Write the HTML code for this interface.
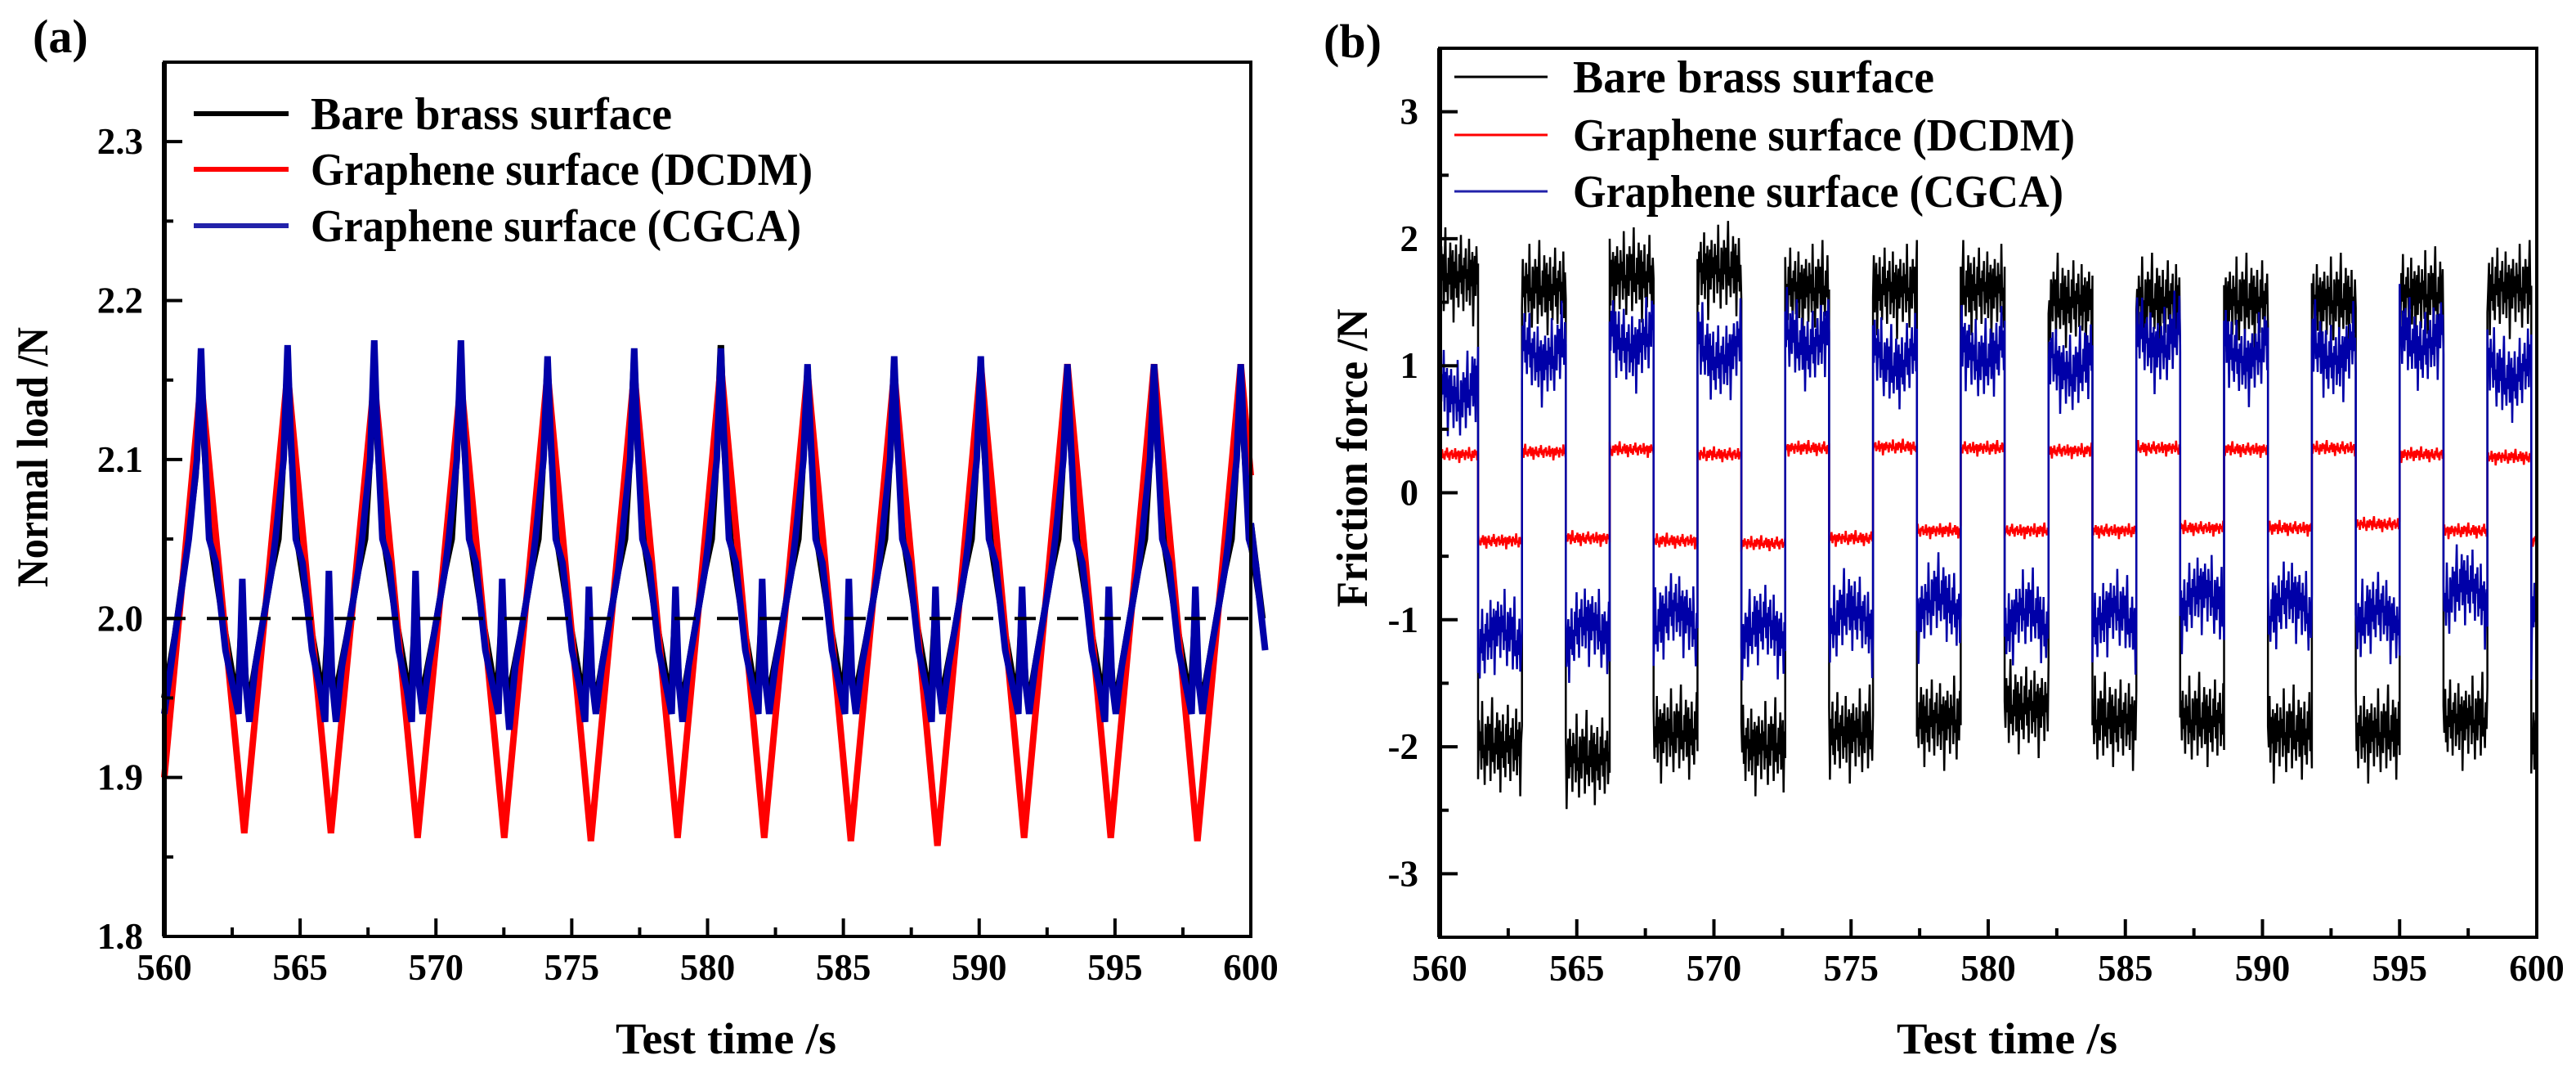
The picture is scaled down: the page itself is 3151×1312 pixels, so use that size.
<!DOCTYPE html>
<html><head><meta charset="utf-8"><style>
html,body{margin:0;padding:0;background:#fff;}
svg{display:block;}
text{font-family:"Liberation Serif",serif;font-weight:bold;fill:#000;}
</style></head><body>
<svg id="fig" width="3151" height="1312" viewBox="0 0 3151 1312" xmlns="http://www.w3.org/2000/svg">
<rect width="3151" height="1312" fill="#fff"/>
</svg>
<script>
// ---------- Panel (a) data: normal load ----------
const aPeakTimes = [561.35,564.54,567.73,570.92,574.11,577.3,580.49,583.68,586.87,590.06,593.25,596.44,599.63];
const aRedPeaks = [2.15,2.155,2.15,2.15,2.155,2.155,2.16,2.155,2.155,2.16,2.16,2.16,2.16];
const aRedTroughs = [1.865,1.865,1.862,1.862,1.86,1.862,1.862,1.86,1.857,1.862,1.862,1.86];
const aBluePeaks = [2.17,2.172,2.175,2.175,2.165,2.17,2.17,2.16,2.165,2.165,2.16,2.16,2.16];
const aBlueLo1 = [1.94,1.935,1.935,1.94,1.935,1.94,1.94,1.94,1.935,1.94,1.935,1.94];
const aBlueSpike = [2.025,2.03,2.03,2.025,2.02,2.02,2.025,2.025,2.02,2.02,2.02,2.02];
const aBlueLo2 = [1.935,1.935,1.94,1.93,1.94,1.935,1.94,1.94,1.94,1.94,1.94,1.94];
const aBlackPeaks = [2.155,2.16,2.16,2.16,2.16,2.165,2.172,2.155,2.16,2.16,2.155,2.155,2.155];
const aBlackLo = [1.95,1.955,1.955,1.955,1.95,1.95,1.955,1.955,1.955,1.95,1.95,1.95];
const aXTicks = [560,565,570,575,580,585,590,595,600];
const aYTicks = [1.8,1.9,2.0,2.1,2.2,2.3];
const aYTickLabels = ["1.8","1.9","2.0","2.1","2.2","2.3"];

// ---------- Panel (b) data: friction force ----------
const bBounds = [560,561.4,563.0,564.6,566.2,567.8,569.4,571.0,572.6,574.2,575.8,577.4,579.0,580.6,582.2,583.8,585.4,587.0,588.6,590.2,591.8,593.4,595.0,596.6,598.2,599.8,600];
const bBlackHigh = [1.7,1.6,1.7,1.75,1.6,1.6,1.6,1.5,1.5,1.5,1.5,1.55,1.6,1.6];
const bBlackLow = [-2.0,-2.1,-1.9,-2.0,-1.9,-1.8,-1.7,-1.8,-1.8,-1.9,-1.9,-1.8,-2.0];
const bBlueHigh = [0.8,1.1,1.2,1.1,1.2,1.05,1.1,1.0,1.2,1.1,1.1,1.2,0.95,0.9];
const bBlueLow = [-1.15,-1.1,-1.0,-1.1,-1.0,-0.9,-1.0,-1.0,-0.85,-0.9,-1.0,-0.8,-1.0];
const bRedHigh = [0.3,0.32,0.34,0.3,0.35,0.36,0.35,0.33,0.35,0.34,0.35,0.3,0.28,0.28];
const bRedLow = [-0.38,-0.36,-0.38,-0.4,-0.36,-0.3,-0.3,-0.3,-0.28,-0.28,-0.25,-0.3,-0.38];
const bNoise = [0.2,-0.5,0.8,-0.1,0.6,-0.9,0.3,1.3,-0.4,0.1,-0.7,0.5,-0.2,0.9,-0.6,0.0,0.7,-1.2,0.4,-0.3,0.85,-0.55,0.15,-0.8,0.6,-0.15,1.1,-0.45,0.3,-0.9,0.5,-0.05,0.75,-0.65,0.2,-0.35,1.0,-0.75,0.45,-0.25,0.65,-1.3,0.1,0.55,-0.5,0.8,-0.2,0.35,-0.85,0.7,-0.1,0.4,-0.6,1.2,-0.3,0.05,-1.0,0.6];
const bXTicks = [560,565,570,575,580,585,590,595,600];
const bYTicks = [-3,-2,-1,0,1,2,3];
const bYTickLabels = ["-3","-2","-1","0","1","2","3"];

const NS = "http://www.w3.org/2000/svg";
const svg = document.getElementById("fig");
function mk(tag, attrs, parent){
  const e = document.createElementNS(NS, tag);
  for (const k in attrs) e.setAttribute(k, attrs[k]);
  (parent||svg).appendChild(e);
  return e;
}

const A = {x0:201,x1:1530,y0:1145,y1:76,tmin:560,tmax:600,vmin:1.8,vmax:2.35};
const B = {x0:1761,x1:3103,y0:1146,y1:59,tmin:560,tmax:600,vmin:-3.5,vmax:3.5};
function sx(P,t){return P.x0+(t-P.tmin)/(P.tmax-P.tmin)*(P.x1-P.x0);}
function sy(P,v){return P.y0-(v-P.vmin)/(P.vmax-P.vmin)*(P.y0-P.y1);}

function drawLine(P, pts, color, w, name){
  const d = pts.map((p,i)=>(i?"L":"M")+sx(P,p[0]).toFixed(1)+","+sy(P,p[1]).toFixed(1)).join("");
  const el = mk("path",{d:d,fill:"none",stroke:color,"stroke-width":w,"stroke-linejoin":"miter"});
  
  
}

function axes(P, xTicks, yTicks, yLabels, yMinorStep, gName){
  const g = mk("g",{});
  
  
  mk("rect",{x:P.x0,y:P.y1,width:P.x1-P.x0,height:P.y0-P.y1,fill:"none",stroke:"#000","stroke-width":4},g);
  mk("line",{x1:P.x0,x2:P.x0,y1:P.y1,y2:P.y0,stroke:"#000","stroke-width":6},g);
  for (let i=0;i<xTicks.length;i++){
    const x = sx(P,xTicks[i]);
    mk("line",{x1:x,x2:x,y1:P.y0,y2:P.y0-22,stroke:"#000","stroke-width":4},g);
    if (i<xTicks.length-1){
      const xm = sx(P,(xTicks[i]+xTicks[i+1])/2);
      mk("line",{x1:xm,x2:xm,y1:P.y0,y2:P.y0-11,stroke:"#000","stroke-width":4},g);
    }
    const t = mk("text",{x:x,y:P.y0+53,"font-size":45,"text-anchor":"middle"},g);
    t.textContent = xTicks[i];
    
    
  }
  for (let i=0;i<yTicks.length;i++){
    const y = sy(P,yTicks[i]);
    mk("line",{x1:P.x0,x2:P.x0+22,y1:y,y2:y,stroke:"#000","stroke-width":4},g);
    const ym = sy(P,yTicks[i]+yMinorStep);
    if (ym>P.y1+5) mk("line",{x1:P.x0,x2:P.x0+11,y1:ym,y2:ym,stroke:"#000","stroke-width":4},g);
    const t = mk("text",{x:P.x0-26,y:y+15,"font-size":45,"text-anchor":"end"},g);
    t.textContent = yLabels[i];
    
    
  }
}

// ---------- Panel (a) series ----------
(function(){
  const blk = [[560,1.95],[560.4,1.99],[560.8,2.04]];
  for (let k=0;k<aPeakTimes.length;k++){
    const tp = aPeakTimes[k];
    blk.push([tp-0.2,2.09],[tp,aBlackPeaks[k]],[tp+0.12,2.11],[tp+0.35,2.05],[tp+0.8,2.0]);
    if (k<aBlackLo.length){
      blk.push([tp+1.15,1.965],[tp+1.35,aBlackLo[k]],[tp+1.5,2.0],[tp+1.65,1.96],[tp+1.8,aBlackLo[k]],[tp+2.2,1.99],[tp+2.6,2.03],[tp+2.85,2.05]);
    } else blk.push([600,2.06]);
  }
  drawLine(A, blk, "#000", 8, "series-bare-brass-a");
  const red = [[560,1.90]];
  for (let k=0;k<aPeakTimes.length;k++){
    red.push([aPeakTimes[k],aRedPeaks[k]]);
    if (k<aRedTroughs.length) red.push([aPeakTimes[k]+1.595,aRedTroughs[k]]);
  }
  red.push([600,2.09]);
  drawLine(A, red, "#ff0000", 8, "series-graphene-dcdm-a");
  const blu = [[560,1.94],[560.4,1.99],[560.9,2.05]];
  for (let k=0;k<aPeakTimes.length;k++){
    const tp = aPeakTimes[k];
    blu.push([tp-0.15,2.10],[tp,aBluePeaks[k]],[tp+0.1,2.12],[tp+0.3,2.05],[tp+0.55,2.035],[tp+0.9,1.98]);
    if (k<aBlueLo1.length){
      blu.push([tp+1.2,1.955],[tp+1.38,aBlueLo1[k]],[tp+1.52,aBlueSpike[k]],[tp+1.64,1.96],[tp+1.78,aBlueLo2[k]],[tp+2.0,1.97],[tp+2.3,2.0],[tp+2.6,2.03],[tp+2.74,2.05]);
    } else blu.push([600,2.06]);
  }
  drawLine(A, blu, "#0000a8", 8, "series-graphene-cgca-a");
})();
(function(){
  const y = sy(A,2.0);
  const l = mk("line",{x1:A.x0,x2:A.x1,y1:y,y2:y,stroke:"#000","stroke-width":4,"stroke-dasharray":"26,26"});
  
  
})();
axes(A, aXTicks, aYTicks, aYTickLabels, 0.05, "axes-a");

// ---------- Panel (b) series ----------
function squareSeries(highs, lows, spread, noiseOff, sag){
  const pts = [];
  let hi=0, lo=0, n=noiseOff;
  for (let s=0;s<bBounds.length-1;s++){
    const t0=bBounds[s], t1=bBounds[s+1];
    const isHigh = s%2===0;
    const lvl = isHigh ? highs[Math.min(hi++,highs.length-1)] : lows[Math.min(lo++,lows.length-1)];
    const steps = Math.max(2, Math.round((t1-t0)/0.03));
    for (let i=0;i<=steps;i++){
      const f = i/steps;
      const t = t0+(t1-t0)*f;
      const nz = bNoise[(n++)%bNoise.length];
      const bow = sag*(Math.sin(Math.PI*f)-0.6)*(isHigh?-1:1);
      pts.push([t, lvl + bow + spread*nz]);
    }
  }
  return pts;
}
drawLine(B, squareSeries(bBlackHigh,bBlackLow,0.3,0,0), "#000", 2.5, "series-bare-brass-b");
drawLine(B, squareSeries(bRedHigh,bRedLow,0.05,17,0), "#ff0000", 2.5, "series-graphene-dcdm-b");
drawLine(B, squareSeries(bBlueHigh,bBlueLow,0.27,31,0.2), "#0000a8", 2.5, "series-graphene-cgca-b");
axes(B, bXTicks, bYTicks, bYTickLabels, 0.5, "axes-b");

// ---------- Legends ----------
function legend(x0,x1,tx,ys,lens,widths,gName){
  const names=["Bare brass surface","Graphene surface (DCDM)","Graphene surface (CGCA)"];
  const cols=["#000","#ff0000","#2222aa"];
  const g = mk("g",{});
  
  
  for (let i=0;i<3;i++){
    const l = mk("line",{x1:x0,x2:x1,y1:ys[i],y2:ys[i],stroke:cols[i],"stroke-width":widths},g);
    
    
    const t = mk("text",{x:tx,y:ys[i]+19,"font-size":56,textLength:lens[i],lengthAdjust:"spacingAndGlyphs"},g);
    t.textContent = names[i];
    
    
  }
}
legend(237,353,380,[139,207,276],[442,614,600],6,"legend-a");
legend(1779,1893,1924,[94,165,234],[442,614,600],3,"legend-b");

function txt(s,attrs,name){
  const t = mk("text",attrs); t.textContent=s;
  
  
  return t;
}
txt("(a)",{x:40,y:64,"font-size":58},"panel-label-a");
txt("(b)",{x:1619,y:70,"font-size":58},"panel-label-b");
txt("Test time /s",{x:888,y:1288,"font-size":54,"text-anchor":"middle",textLength:270,lengthAdjust:"spacingAndGlyphs"},"x-axis-title-a");
txt("Test time /s",{x:2455,y:1288,"font-size":54,"text-anchor":"middle",textLength:270,lengthAdjust:"spacingAndGlyphs"},"x-axis-title-b");
txt("Normal load /N",{x:0,y:0,"font-size":54,"text-anchor":"middle",textLength:318,lengthAdjust:"spacingAndGlyphs",transform:"translate(58,559) rotate(-90)"},"y-axis-title-a");
txt("Friction force /N",{x:0,y:0,"font-size":54,"text-anchor":"middle",textLength:365,lengthAdjust:"spacingAndGlyphs",transform:"translate(1672,560) rotate(-90)"},"y-axis-title-b");
</script>
</body></html>
